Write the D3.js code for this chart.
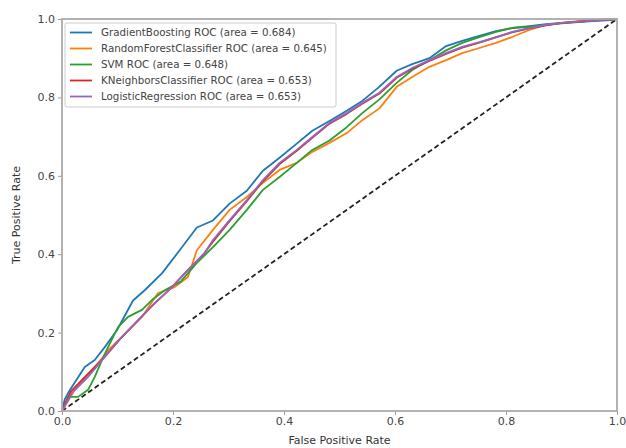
<!DOCTYPE html>
<html>
<head>
<meta charset="utf-8">
<script src="https://cdn.jsdelivr.net/npm/d3@7"></script>
<style>
  body { margin: 0; background: #fff; }
  text { font-family: "DejaVu Sans", sans-serif; fill: #333; }
</style>
</head>
<body>
<div id="chart"></div>
<script>
// ROC curves, as [false positive rate, true positive rate]
let gbRoc = [[0,0],[0.005,0.03],[0.014,0.053],[0.041,0.112],[0.059,0.13],[0.077,0.163],[0.099,0.206],[0.128,0.282],
  [0.149,0.308],[0.18,0.351],[0.212,0.41],[0.243,0.468],[0.272,0.486],[0.302,0.529],[0.333,0.562],
  [0.362,0.613],[0.392,0.646],[0.423,0.682],[0.451,0.715],[0.482,0.74],[0.513,0.766],[0.541,0.791],
  [0.57,0.825],[0.603,0.868],[0.631,0.885],[0.662,0.9],[0.692,0.931],[0.721,0.944],[0.752,0.957],
  [0.782,0.969],[0.811,0.977],[0.842,0.982],[0.872,0.987],[0.901,0.99],[0.932,0.992],[0.962,0.995],
  [0.99,0.997],[1,1]];
let rfRoc = [[0,0],[0.023,0.054],[0.065,0.122],[0.083,0.155],[0.108,0.189],[0.144,0.24],[0.173,0.301],
  [0.203,0.316],[0.227,0.342],[0.243,0.41],[0.272,0.462],[0.302,0.513],[0.333,0.546],[0.362,0.582],
  [0.392,0.615],[0.423,0.633],[0.451,0.661],[0.482,0.684],[0.513,0.709],[0.541,0.742],[0.572,0.772],
  [0.603,0.827],[0.631,0.852],[0.662,0.878],[0.692,0.895],[0.721,0.913],[0.752,0.926],[0.782,0.939],
  [0.811,0.954],[0.842,0.972],[0.872,0.985],[0.901,0.99],[0.932,0.995],[0.97,0.998],[1,1]];
let svmRoc = [[0,0],[0.011,0.036],[0.029,0.036],[0.047,0.054],[0.059,0.087],[0.072,0.13],[0.083,0.163],
  [0.101,0.214],[0.119,0.24],[0.144,0.258],[0.162,0.283],[0.185,0.308],[0.214,0.33],[0.243,0.378],
  [0.272,0.418],[0.302,0.462],[0.333,0.513],[0.362,0.564],[0.392,0.597],[0.423,0.633],[0.451,0.666],
  [0.482,0.69],[0.513,0.724],[0.541,0.76],[0.572,0.795],[0.603,0.837],[0.631,0.87],[0.662,0.895],
  [0.692,0.92],[0.721,0.939],[0.752,0.954],[0.782,0.967],[0.811,0.977],[0.842,0.98],[0.872,0.985],
  [0.91,0.99],[0.95,0.995],[1,1]];
let knnRoc = [[0,0],[0.016,0.05],[0.045,0.092],[0.075,0.135],[0.106,0.186],[0.135,0.228],[0.165,0.272],
  [0.196,0.313],[0.225,0.357],[0.255,0.4],[0.272,0.432],[0.302,0.484],[0.333,0.535],[0.362,0.586],
  [0.392,0.63],[0.423,0.664],[0.451,0.697],[0.482,0.733],[0.513,0.758],[0.541,0.784],[0.572,0.81],
  [0.603,0.85],[0.631,0.873],[0.662,0.893],[0.692,0.911],[0.721,0.927],[0.752,0.94],[0.782,0.953],
  [0.811,0.966],[0.842,0.976],[0.872,0.984],[0.901,0.99],[0.95,0.995],[1,1]];
let lrRoc = [[0,0],[0.018,0.046],[0.047,0.087],[0.077,0.138],[0.108,0.189],[0.137,0.232],[0.167,0.275],
  [0.198,0.316],[0.227,0.36],[0.257,0.403],[0.272,0.436],[0.302,0.487],[0.333,0.538],[0.362,0.589],
  [0.392,0.633],[0.423,0.666],[0.451,0.699],[0.482,0.735],[0.513,0.76],[0.541,0.786],[0.572,0.812],
  [0.603,0.852],[0.631,0.875],[0.662,0.895],[0.692,0.913],[0.721,0.929],[0.752,0.941],[0.782,0.954],
  [0.811,0.967],[0.842,0.977],[0.872,0.985],[0.901,0.99],[0.95,0.995],[1,1]];

let labels = [
  "GradientBoosting ROC (area = 0.684)",
  "RandomForestClassifier ROC (area = 0.645)",
  "SVM ROC (area = 0.648)",
  "KNeighborsClassifier ROC (area = 0.653)",
  "LogisticRegression ROC (area = 0.653)"
];
let curves = [gbRoc, rfRoc, svmRoc, knnRoc, lrRoc];
let colors = ["#1f77b4", "#ff7f0e", "#2ca02c", "#d62728", "#9467bd"];
let ticks = [0, 0.2, 0.4, 0.6, 0.8, 1.0];

////////////////////////////////////////////////////////////////////////

let width = 626;
let height = 448;
let plotLeft = 62, plotRight = 617, plotTop = 19, plotBottom = 411;

let svg = d3.select("#chart")
  .append("svg")
  .attr("width", width).attr("height", height);

let xScale = d3.scaleLinear().domain([0, 1]).range([plotLeft, plotRight]);
let yScale = d3.scaleLinear().domain([0, 1]).range([plotBottom, plotTop]);

let line = d3.line()
  .x((d) => xScale(d[0]))
  .y((d) => yScale(d[1]));

// chance diagonal
svg.append("path")
  .attr("d", line([[0, 0], [1, 1]]))
  .attr("fill", "none")
  .attr("stroke", "#222")
  .attr("stroke-width", 1.8)
  .attr("stroke-dasharray", "5,3");

// roc curves
svg.append("g")
  .selectAll(".roc")
  .data(curves)
  .enter()
  .append("path")
  .attr("class", "roc")
  .attr("d", line)
  .attr("fill", "none")
  .attr("stroke", (d, i) => colors[i])
  .attr("stroke-width", 1.8)
  .attr("stroke-linejoin", "round");

// axes
let xAxis = d3.axisBottom(xScale).tickValues(ticks).tickFormat(d3.format(".1f")).tickSize(4).tickPadding(2);
let yAxis = d3.axisLeft(yScale).tickValues(ticks).tickFormat(d3.format(".1f")).tickSize(4).tickPadding(3);

svg.append("g")
  .attr("transform", "translate(0," + plotBottom + ")")
  .call(xAxis);
svg.append("g")
  .attr("transform", "translate(" + plotLeft + ",0)")
  .call(yAxis);

svg.selectAll(".tick text")
  .style("font-family", "DejaVu Sans, sans-serif")
  .style("font-size", "11px")
  .style("fill", "#444");
svg.selectAll(".tick line").attr("stroke", "#999");
svg.selectAll(".domain").remove();

// frame around the plot
svg.append("rect")
  .attr("x", plotLeft).attr("y", plotTop)
  .attr("width", plotRight - plotLeft).attr("height", plotBottom - plotTop)
  .attr("fill", "none")
  .attr("stroke", "#aaa")
  .attr("stroke-width", 1.8);

// axis titles
svg.append("text")
  .attr("x", (plotLeft + plotRight) / 2)
  .attr("y", 444)
  .attr("text-anchor", "middle")
  .style("font-size", "11px")
  .text("False Positive Rate");

svg.append("text")
  .attr("transform", "translate(20," + (plotTop + plotBottom) / 2 + ") rotate(-90)")
  .attr("text-anchor", "middle")
  .style("font-size", "11px")
  .text("True Positive Rate");

// legend
let legend = svg.append("g").attr("transform", "translate(65,23)");
legend.append("rect")
  .attr("width", 271).attr("height", 84)
  .attr("rx", 2)
  .attr("fill", "#fff")
  .attr("fill-opacity", 0.85)
  .attr("stroke", "#ccc");

let entries = legend.selectAll(".entry")
  .data(labels)
  .enter()
  .append("g")
  .attr("class", "entry")
  .attr("transform", (d, i) => "translate(0," + (9.5 + i * 16) + ")");

entries.append("line")
  .attr("x1", 5).attr("x2", 27)
  .attr("stroke", (d, i) => colors[i])
  .attr("stroke-width", 1.8);

entries.append("text")
  .attr("x", 36)
  .attr("dy", "0.35em")
  .style("font-size", "10.3px")
  .style("fill", "#444")
  .text((d) => d);
</script>
</body>
</html>
